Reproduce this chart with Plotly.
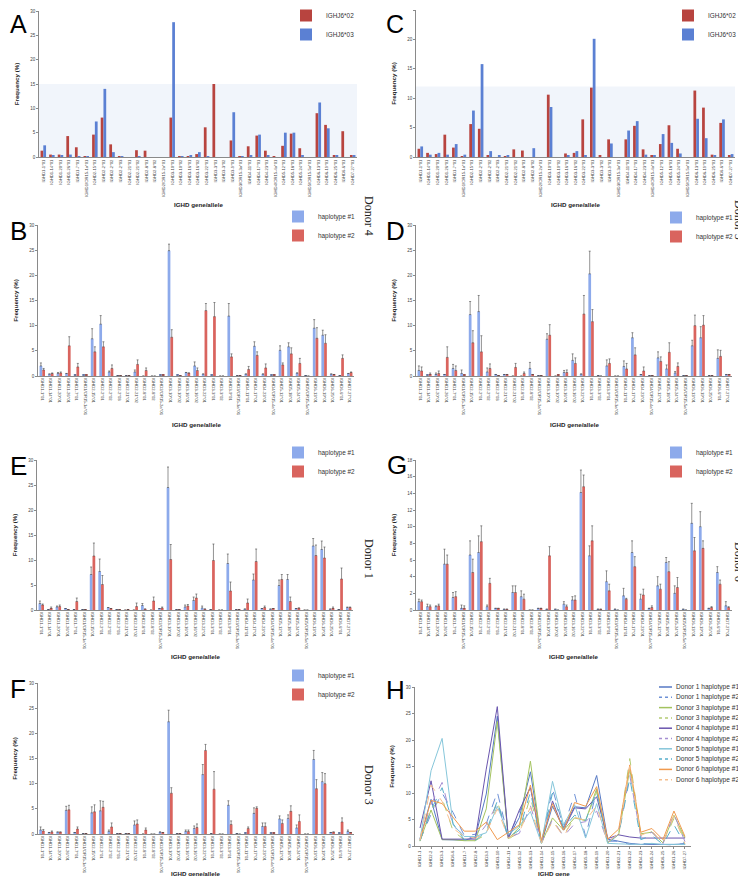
import plotly.graph_objects as go

# ---------------- data ----------------
cats = ["IGHD1-1*01", "IGHD1-14*01", "IGHD1-20*01", "IGHD1-26*01", "IGHD1-7*01", "IGHD1/OR15-1a*01",
        "IGHD2-15*01", "IGHD2-2*01", "IGHD2-2*02", "IGHD2-2*03", "IGHD2-21*01", "IGHD2-21*02",
        "IGHD2-8*01", "IGHD2-8*02", "IGHD2/OR15-2a*01", "IGHD3-10*01", "IGHD3-10*02", "IGHD3-16*01",
        "IGHD3-16*02", "IGHD3-22*01", "IGHD3-3*01", "IGHD3-3*02", "IGHD3-9*01", "IGHD3/OR15-3a*01",
        "IGHD4-11*01", "IGHD4-17*01", "IGHD4-23*01", "IGHD4/OR15-4a*01", "IGHD5-12*01", "IGHD5-18*01",
        "IGHD5-24*01", "IGHD5/OR15-5a*01", "IGHD6-13*01", "IGHD6-19*01", "IGHD6-25*01", "IGHD6-6*01",
        "IGHD7-27*01"]

genes = ["IGHD1-1", "IGHD2-2", "IGHD3-3", "IGHD6-6", "IGHD1-7", "IGHD2-8", "IGHD3-9", "IGHD3-10",
         "IGHD4-11", "IGHD5-12", "IGHD6-13", "IGHD1-14", "IGHD2-15", "IGHD3-16", "IGHD4-17", "IGHD5-18",
         "IGHD6-19", "IGHD1-20", "IGHD2-21", "IGHD3-22", "IGHD4-23", "IGHD5-24", "IGHD6-25", "IGHD1-26",
         "IGHD7-27"]

# Panel A (IGHJ6*02 / IGHJ6*03)
a_j602 = [1.3, 0.5, 0.5, 4.3, 2.0, 0.2, 4.6, 8.1, 2.6, 0.1, 0.0, 1.4, 1.3, 0.0, 0.0, 8.1, 0.1, 0.2, 0.6,
          6.1, 15.0, 0.0, 3.4, 0.1, 2.2, 4.4, 1.3, 0.1, 2.3, 4.8, 1.8, 0.0, 9.0, 6.6, 0.3, 5.3, 0.3]
a_j603 = [2.4, 0.3, 0.3, 0.5, 0.2, 0.1, 7.3, 14.0, 1.0, 0.1, 0.0, 0.2, 0.0, 0.0, 0.0, 27.7, 0.1, 0.4, 1.0,
          0.2, 0.0, 0.0, 9.2, 0.1, 0.3, 4.6, 0.3, 0.0, 5.0, 5.0, 0.4, 0.0, 11.2, 5.9, 0.3, 0.0, 0.4]

# Panel C (IGHJ6*02 / IGHJ6*03)
c_j602 = [1.4, 0.7, 0.5, 3.8, 1.6, 0.1, 5.6, 4.8, 0.3, 0.0, 0.1, 1.3, 1.1, 0.0, 0.0, 10.6, 0.0, 0.6, 0.7,
          6.4, 11.8, 0.2, 3.0, 0.0, 3.0, 5.3, 1.3, 0.2, 2.2, 5.4, 1.4, 0.0, 11.3, 8.4, 0.4, 5.8, 0.3]
c_j603 = [1.8, 0.4, 0.7, 0.4, 2.2, 0.4, 7.9, 15.8, 1.0, 0.3, 0.2, 0.0, 0.0, 1.5, 0.0, 8.5, 0.0, 0.2, 1.0,
          0.2, 20.1, 0.0, 2.3, 0.0, 4.5, 6.1, 0.4, 0.3, 3.9, 2.4, 0.6, 0.0, 6.5, 3.2, 0.3, 6.4, 0.5]

# Panel B (Donor 4)
b_h1 = [2.0, 0.4, 0.5, 0.5, 0.2, 0.2, 7.4, 10.3, 0.8, 0.1, 0.1, 0.8, 0.0, 0.0, 0.2, 24.9, 0.2, 0.7, 2.0,
        0.4, 0.2, 0.0, 11.9, 0.1, 0.4, 5.9, 0.4, 0.2, 5.1, 5.8, 0.6, 0.1, 9.5, 8.1, 0.4, 0.1, 0.5]
b_h1_err = [0.6, None, 0.2, None, None, None, 2.0, 1.7, 0.2, None, None, 0.4, None, None, None, 1.3, None,
            None, 0.8, None, None, None, 2.5, None, None, 0.9, None, None, 0.9, 0.8, None, None, 1.7, 1.0,
            None, None, None]
b_h2 = [1.2, 0.5, 0.6, 6.0, 1.8, 0.2, 4.8, 5.8, 1.5, 0.1, 0.1, 2.3, 1.1, 0.0, 0.2, 7.7, 0.1, 0.6, 1.1,
        13.0, 11.8, 0.0, 3.8, 0.1, 1.3, 4.1, 1.6, 0.2, 2.2, 4.4, 2.5, 0.0, 7.5, 6.5, 0.3, 3.5, 0.7]
b_h2_err = [0.3, 0.1, 0.2, 1.8, 0.7, None, 1.0, 1.0, 0.7, None, None, 0.9, 0.5, None, None, 1.5, None,
            None, 0.5, 1.4, 2.8, None, 0.6, None, 0.6, 0.7, 0.8, None, 0.4, 1.2, 1.0, None, 2.1, 1.7,
            None, 0.7, 0.1]

# Panel D (Donor 5)
d_h1 = [1.1, 0.2, 0.3, 0.3, 1.5, 0.5, 12.2, 12.8, 0.8, 0.3, 0.3, 0.0, 0.0, 1.5, 0.1, 7.3, 0.0, 0.7, 3.1,
        0.4, 20.3, 0.1, 2.0, 0.0, 1.9, 7.6, 0.3, 0.1, 3.6, 1.4, 0.6, 0.1, 6.0, 7.6, 0.1, 3.5, 0.3]
d_h1_err = [0.9, None, 0.3, None, 0.8, 0.7, 2.6, 3.2, 0.8, None, None, None, None, 1.2, None, 1.1, None,
            0.4, 1.3, None, 4.5, None, 1.2, None, 1.1, 1.0, None, None, 1.2, 0.8, 0.3, None, 1.1, 2.2,
            None, 1.7, None]
d_h2 = [1.0, 0.3, 0.5, 3.7, 1.1, 0.2, 6.6, 4.8, 1.5, 0.1, 0.3, 1.7, 0.5, 0.3, 0.1, 8.1, 0.2, 0.7, 2.5,
        12.3, 10.8, 0.0, 2.5, 0.0, 1.4, 4.2, 1.0, 0.1, 2.9, 4.7, 1.9, 0.1, 10.0, 10.1, 0.1, 3.9, 0.3]
d_h2_err = [0.8, 0.3, 0.5, 2.1, 0.9, None, 2.4, 3.2, 0.9, None, None, 0.8, 0.3, None, None, 2.1, None,
            0.5, 1.1, 3.7, 2.4, None, 0.9, None, 1.1, 1.4, 0.8, None, 0.9, 1.9, 0.7, None, 2.1, 1.9,
            None, 1.2, None]

# Panel E (Donor 1)
e_h1 = [1.3, 0.1, 0.6, 0.3, 0.1, 0.1, 7.1, 7.7, 0.5, 0.1, 0.0, 0.0, 0.9, 0.0, 0.3, 24.5, 0.1, 0.6, 1.9,
        0.4, 0.1, 0.0, 9.3, 0.1, 0.2, 6.0, 0.3, 0.2, 4.9, 6.1, 0.3, 0.0, 12.8, 12.1, 0.2, 0.1, 0.5]
e_h1_err = [0.5, None, 0.2, None, None, None, 1.5, 2.5, None, None, None, None, 0.4, None, None, 4.1,
            None, 0.4, 0.7, 0.4, None, None, 1.9, None, None, 1.2, None, None, 1.1, 1.0, None, None,
            1.5, 1.7, None, None, 0.1]
e_h2 = [1.0, 0.3, 0.7, 0.1, 1.7, 0.1, 10.8, 5.1, 0.3, 0.1, 0.1, 0.7, 0.2, 1.8, 0.4, 10.1, 0.1, 0.8, 2.4,
        0.2, 9.9, 0.0, 3.8, 0.1, 1.4, 9.7, 0.5, 0.3, 6.1, 1.7, 0.4, 0.0, 10.9, 10.4, 0.3, 6.2, 0.5]
e_h2_err = [0.2, 0.3, 0.3, None, 0.7, None, 2.6, 1.8, None, None, None, 0.7, None, 0.8, 0.2, 3.0, None,
            0.3, 0.8, None, 3.3, None, 1.8, None, 0.8, 2.5, 0.3, None, 1.0, 0.9, None, None, 2.1, 2.2,
            0.3, 2.2, 0.1]

# Panel G (Donor 6)
g_h1 = [1.0, 0.4, 0.4, 5.5, 1.5, 0.2, 6.6, 6.9, 0.4, 0.2, 0.1, 2.1, 1.6, 0.0, 0.2, 0.1, 0.1, 0.7, 1.2,
        14.1, 6.5, 0.1, 3.4, 0.1, 1.7, 6.9, 1.3, 0.2, 2.9, 5.7, 2.0, 0.1, 10.4, 10.0, 0.2, 4.5, 0.5]
g_h1_err = [0.3, 0.3, 0.1, 1.8, 0.6, 0.4, 1.7, 2.0, 0.2, None, None, 0.8, 0.7, None, None, None, None,
            0.3, 0.4, 2.7, 1.2, None, 1.3, None, 0.9, 1.4, 0.6, None, 1.1, 0.6, 0.9, None, 2.4, 1.8,
            None, 0.7, 0.5]
g_h2 = [1.0, 0.4, 0.5, 5.5, 1.6, 0.2, 4.5, 8.2, 3.2, 0.2, 0.1, 2.1, 1.3, 0.0, 0.2, 6.5, 0.0, 0.4, 1.2,
        14.8, 8.3, 0.1, 2.3, 0.0, 1.3, 5.2, 1.8, 0.3, 2.5, 4.6, 2.7, 0.0, 7.1, 7.4, 0.3, 3.1, 0.3]
g_h2_err = [0.2, 0.2, 0.2, 1.1, 0.6, 0.3, 1.6, 1.9, 0.6, None, None, 0.8, 0.6, None, None, 1.1, None,
            0.2, 0.5, 1.4, 1.8, None, 0.8, None, 0.1, 1.2, 0.7, 0.2, 0.6, 1.2, 1.2, None, 1.6, 0.9,
            0.1, 0.5, 0.1]

# Panel F (Donor 3)
f_h1 = [0.8, 0.3, 0.4, 4.7, 0.3, 0.1, 4.2, 4.6, 0.5, 0.1, 0.1, 1.8, 0.0, 0.0, 0.4, 22.3, 0.1, 0.5, 1.1,
        11.8, 0.1, 0.0, 5.7, 0.1, 0.2, 4.1, 1.5, 0.2, 3.0, 3.1, 1.2, 0.0, 14.8, 10.4, 0.3, 0.2, 0.5]
f_h1_err = [0.6, None, None, 0.8, None, None, 1.2, 2.0, 0.3, None, None, 0.8, None, None, None, 2.3,
            None, 0.3, 0.5, 2.0, None, None, 0.9, None, None, 1.1, 0.7, None, 0.6, 0.7, 0.6, None,
            1.8, 1.8, None, None, 0.3]
f_h2 = [0.6, 0.4, 0.4, 4.8, 1.0, 0.1, 4.4, 5.3, 1.4, 0.1, 0.1, 2.0, 0.8, 0.0, 0.3, 8.1, 0.1, 0.5, 1.3,
        16.6, 8.9, 0.0, 1.9, 0.0, 1.1, 5.1, 1.5, 0.2, 2.1, 4.5, 2.5, 0.0, 9.0, 10.0, 0.4, 2.4, 0.3]
f_h2_err = [0.3, 0.2, None, 0.9, 0.4, None, 1.4, 1.2, 0.8, None, None, 0.8, 0.4, None, None, 1.1, None,
            0.3, 0.7, 1.2, 3.5, None, 0.7, None, 0.3, 0.3, 0.7, None, 0.7, 1.1, 1.3, None, 1.8, 2.0,
            None, 0.8, None]

# Panel H (gene-level, per donor haplotype)
h_names = ["Donor 1 haplotype #1", "Donor 1 haplotype #2", "Donor 3 haplotype #1", "Donor 3 haplotype #2",
           "Donor 4 haplotype #1", "Donor 4 haplotype #2", "Donor 5 haplotype #1", "Donor 5 haplotype #2",
           "Donor 6 haplotype #1", "Donor 6 haplotype #2"]
h_d1h1 = [1.4, 8.8, 1.2, 1.2, 1.1, 1.6, 9.8, 24.5, 1.5, 5.4, 14.0, 0.6, 7.5, 3.4, 7.4, 7.2, 13.3, 1.3, 0.9,
          0.5, 0.3, 0.3, 0.2, 0.3, 0.4]
h_d1h2 = [1.1, 6.0, 10.0, 6.3, 2.0, 2.2, 4.2, 10.2, 1.6, 6.4, 11.2, 0.6, 10.8, 3.5, 9.8, 1.8, 10.5, 0.9,
          0.9, 0.3, 0.5, 0.4, 0.3, 0.2, 0.5]
h_d3h1 = [1.0, 6.8, 1.2, 1.2, 1.0, 1.0, 7.0, 23.5, 1.4, 3.5, 16.0, 0.5, 5.3, 3.0, 5.3, 4.8, 10.8, 0.6, 2.2,
          14.5, 2.3, 2.6, 0.6, 5.8, 1.5]
h_d3h2 = [0.9, 7.0, 9.0, 2.8, 1.2, 1.0, 2.2, 8.5, 1.3, 2.6, 9.2, 0.6, 4.8, 2.0, 5.4, 4.8, 10.2, 0.6, 2.4,
          16.5, 2.0, 2.7, 0.5, 5.2, 1.2]
h_d4h1 = [3.4, 12.3, 1.3, 1.3, 1.3, 1.3, 14.5, 26.3, 1.5, 6.8, 11.0, 0.6, 8.5, 3.0, 7.2, 7.0, 9.3, 1.4,
          2.1, 1.7, 1.5, 1.5, 1.4, 1.5, 1.5]
h_d4h2 = [1.3, 7.8, 12.0, 3.8, 2.0, 1.3, 4.0, 8.0, 1.5, 2.4, 7.6, 0.6, 5.0, 1.8, 4.2, 4.6, 6.6, 0.7, 2.5,
          13.3, 1.8, 2.6, 0.4, 6.1, 0.8]
h_d5h1 = [1.2, 14.2, 20.3, 4.0, 1.8, 1.8, 2.5, 7.5, 2.2, 3.8, 6.5, 0.5, 12.2, 4.0, 7.8, 1.5, 8.0, 0.5, 0.4,
          0.4, 0.3, 0.5, 0.3, 0.3, 0.3]
h_d5h2 = [1.0, 6.8, 11.0, 4.2, 1.2, 1.0, 2.8, 8.5, 1.6, 3.0, 10.2, 0.5, 10.0, 3.4, 5.8, 4.8, 10.3, 0.5,
          2.2, 12.8, 1.2, 2.0, 0.3, 4.0, 0.3]
h_d6h1 = [1.2, 8.6, 8.0, 5.5, 2.8, 2.8, 4.5, 1.2, 2.6, 4.0, 11.5, 1.0, 8.0, 3.0, 8.2, 7.5, 11.2, 1.3, 3.2,
          15.3, 2.6, 3.3, 1.2, 6.6, 1.8]
h_d6h2 = [1.1, 11.5, 8.4, 3.3, 1.8, 1.5, 2.5, 7.0, 1.5, 2.7, 7.3, 0.6, 4.7, 1.8, 5.4, 4.8, 7.6, 0.7, 2.3,
          15.0, 2.0, 2.9, 0.5, 5.7, 0.4]

# ---------------- figure ----------------
W, H = 746, 876
FONT = "Liberation Sans, Arial, sans-serif"
SERIF = "Liberation Serif, Times New Roman, serif"
RED_J, BLUE_J = "#B8443F", "#5B80D3"
HAP1, HAP2 = "#8DAAEB", "#D9645E"
AXC = "#8a8a8a"


def dx(a, b):
    return [a / W, b / W]


def dy(top, bot):
    return [1 - bot / H, 1 - top / H]


fig = go.Figure()

# (axis id, x px range, y px range (top,bottom), ymax, dtick, tickangle, series, legend id,
#  legend (text-start px, legend-top px), x-title centre y px)
bar_panels = [
    (1, (31, 349), (3, 149), 30, 5, -90,
     [("IGHJ6*02", a_j602, None, RED_J), ("IGHJ6*03", a_j603, None, BLUE_J)], "legend", (318, -7), 197),
    (2, (408, 727), (2, 149), 25, 5, -90,
     [("IGHJ6*02", c_j602, None, RED_J), ("IGHJ6*03", c_j603, None, BLUE_J)], "legend2", (700, -7), 197),
    (3, (30, 346), (217, 368), 30, 5, 90,
     [("haplotype #1", b_h1, b_h1_err, HAP1), ("haplotype #2", b_h2, b_h2_err, HAP2)], "legend3", (310, 194), 416),
    (4, (408, 724), (217, 368), 30, 5, 90,
     [("haplotype #1", d_h1, d_h1_err, HAP1), ("haplotype #2", d_h2, d_h2_err, HAP2)], "legend4", (688, 195), 416),
    (5, (29, 345), (452, 602), 30, 5, 90,
     [("haplotype #1", e_h1, e_h1_err, HAP1), ("haplotype #2", e_h2, e_h2_err, HAP2)], "legend5", (310, 430), 648),
    (6, (408, 723.5), (452, 602), 18, 2, 90,
     [("haplotype #1", g_h1, g_h1_err, HAP1), ("haplotype #2", g_h2, g_h2_err, HAP2)], "legend6", (688, 430), 648),
    (7, (29.7, 345.5), (675, 826), 30, 5, 90,
     [("haplotype #1", f_h1, f_h1_err, HAP1), ("haplotype #2", f_h2, f_h2_err, HAP2)], "legend7", (310, 653), 865),
]

layout = dict(
    width=W, height=H, margin=dict(l=0, r=0, t=0, b=0, autoexpand=False),
    paper_bgcolor="white", plot_bgcolor="white",
    barmode="group", bargap=0.36, bargroupgap=0.0,
    font=dict(family=FONT, color="#333"),
    showlegend=True,
)

shapes = []
annotations = []


def xtitle(text, xc, yc):
    annotations.append(dict(text="<b>" + text + "</b>", xref="paper", yref="paper", x=xc / W, y=1 - yc / H,
                            xanchor="center", yanchor="middle", showarrow=False,
                            font=dict(size=6.2, color="#222", family=FONT)))


for ax, xr, yr, ymax, dt, tang, series, leg, lpos, ty in bar_panels:
    sfx = "" if ax == 1 else str(ax)
    for name, vals, err, col in series:
        kw = {}
        if err is not None:
            kw["error_y"] = dict(type="data", symmetric=False, array=err,
                                 arrayminus=[0] * len(err), color="#4a4a4a", thickness=0.6, width=1.0)
        fig.add_trace(go.Bar(x=cats, y=vals, name=name, marker=dict(color=col, line=dict(width=0)),
                             xaxis="x" + sfx, yaxis="y" + sfx, legend=leg, **kw))
    layout["xaxis" + sfx] = dict(
        domain=dx(*xr), anchor="y" + sfx, type="category", range=[-0.5, len(cats) - 0.5],
        tickmode="array", tickvals=cats, ticktext=cats, tickangle=tang,
        tickfont=dict(size=4.2, color="#444"),
        showline=True, linecolor=AXC, linewidth=0.8, ticks="", showgrid=False, zeroline=False,
    )
    layout["yaxis" + sfx] = dict(
        domain=dy(*yr), anchor="x" + sfx, range=[0, ymax], tickmode="linear", tick0=0, dtick=dt,
        tickfont=dict(size=4.5, color="#444"), showline=True, linecolor=AXC, linewidth=0.8,
        ticks="outside", ticklen=2, tickcolor=AXC, showgrid=False, zeroline=False,
        title=dict(text="<b>Frequency (%)</b>", font=dict(size=6.2, color="#222"), standoff=10),
    )
    # plotly legend: text begins 40px right of its left edge
    layout[leg] = dict(x=(lpos[0] - 40) / W, y=1 - lpos[1] / H, xanchor="left", yanchor="top",
                       font=dict(size=6.4, color="#333", family=FONT), bgcolor="rgba(0,0,0,0)",
                       itemwidth=30, tracegroupgap=0)
    xtitle("IGHD gene/allele", (xr[0] + xr[1]) / 2, ty)

# faint plot-area bands of panels A and C
shapes.append(dict(type="rect", xref="x domain", yref="y", x0=0, x1=1, y0=0, y1=15,
                   fillcolor="#f1f5fb", line=dict(width=0), layer="below"))
shapes.append(dict(type="rect", xref="x2 domain", yref="y2", x0=0, x1=1, y0=0, y1=12,
                   fillcolor="#f1f5fb", line=dict(width=0), layer="below"))

# ---- Panel H ----
h_series = [h_d1h1, h_d1h2, h_d3h1, h_d3h2, h_d4h1, h_d4h2, h_d5h1, h_d5h2, h_d6h1, h_d6h2]
h_colors = ["#5679C4", "#6E91D6", "#A3C35F", "#B4CC74", "#6A55AE", "#A690D2",
            "#86C6DA", "#57AFCB", "#F19A4E", "#F6BF8E"]
h_dash = ["solid", "dash"] * 5
for name, vals, col, ds in zip(h_names, h_series, h_colors, h_dash):
    fig.add_trace(go.Scatter(x=genes, y=vals, name=name, mode="lines",
                             line=dict(color=col, width=1.0, dash=ds),
                             xaxis="x8", yaxis="y8", showlegend=False))
layout["xaxis8"] = dict(
    domain=dx(406.5, 682.5), anchor="y8", type="category", range=[-0.5, len(genes) - 0.5],
    tickmode="array", tickvals=genes, ticktext=genes, tickangle=-90,
    tickfont=dict(size=4.2, color="#444"), showline=True, linecolor=AXC, linewidth=0.8,
    ticks="outside", ticklen=2, tickcolor=AXC, showgrid=False, zeroline=False,
)
layout["yaxis8"] = dict(
    domain=dy(679, 838), anchor="x8", range=[0, 30], tickmode="linear", tick0=0, dtick=5,
    tickfont=dict(size=4.5, color="#444"), showline=True, linecolor=AXC, linewidth=0.8,
    ticks="outside", ticklen=2, tickcolor=AXC, showgrid=False, zeroline=False,
    title=dict(text="<b>Frequency (%)</b>", font=dict(size=6.2, color="#222"), standoff=10),
)
xtitle("IGHD gene", 546, 865)

# H legend (compact keys + text)
for k, (name, col, ds) in enumerate(zip(h_names, h_colors, h_dash)):
    yc = 679 + 10.3 * k
    shapes.append(dict(type="line", xref="paper", yref="paper", x0=651 / W, x1=664 / W,
                       y0=1 - yc / H, y1=1 - yc / H,
                       line=dict(color=col, width=1.5, dash="dot" if ds == "dash" else "solid")))
    annotations.append(dict(text=name, xref="paper", yref="paper", x=666 / W, y=1 - yc / H,
                            xanchor="left", yanchor="middle", showarrow=False,
                            font=dict(size=6.6, color="#333", family=FONT)))

# panel letters (top of text box in px for A/C, centre for the others)
for letter, x, yv, anc in [("A", 0, 0, "top"), ("C", 376, 0, "top"), ("B", 0, 223, "middle"),
                           ("D", 376, 223, "middle"), ("E", 0, 458, "middle"), ("G", 377, 457, "middle"),
                           ("F", 0, 681, "middle"), ("H", 376, 682, "middle")]:
    annotations.append(dict(text=letter, xref="paper", yref="paper", x=x / W, y=1 - yv / H,
                            xanchor="left", yanchor=anc, showarrow=False,
                            font=dict(size=25 if anc == "top" else 26, color="black", family=FONT)))

# donor labels
for text, x, yc in [("Donor 4", 361, 208), ("Donor 5", 731, 212), ("Donor 1", 361, 551),
                    ("Donor 6", 731, 554), ("Donor 3", 361, 777)]:
    annotations.append(dict(text=text, xref="paper", yref="paper", x=x / W, y=1 - yc / H,
                            xanchor="center", yanchor="middle", showarrow=False, textangle=90,
                            font=dict(size=12, color="#222", family=SERIF)))

layout["shapes"] = shapes
layout["annotations"] = annotations
fig.update_layout(**layout)
fig.write_html("out.html")
